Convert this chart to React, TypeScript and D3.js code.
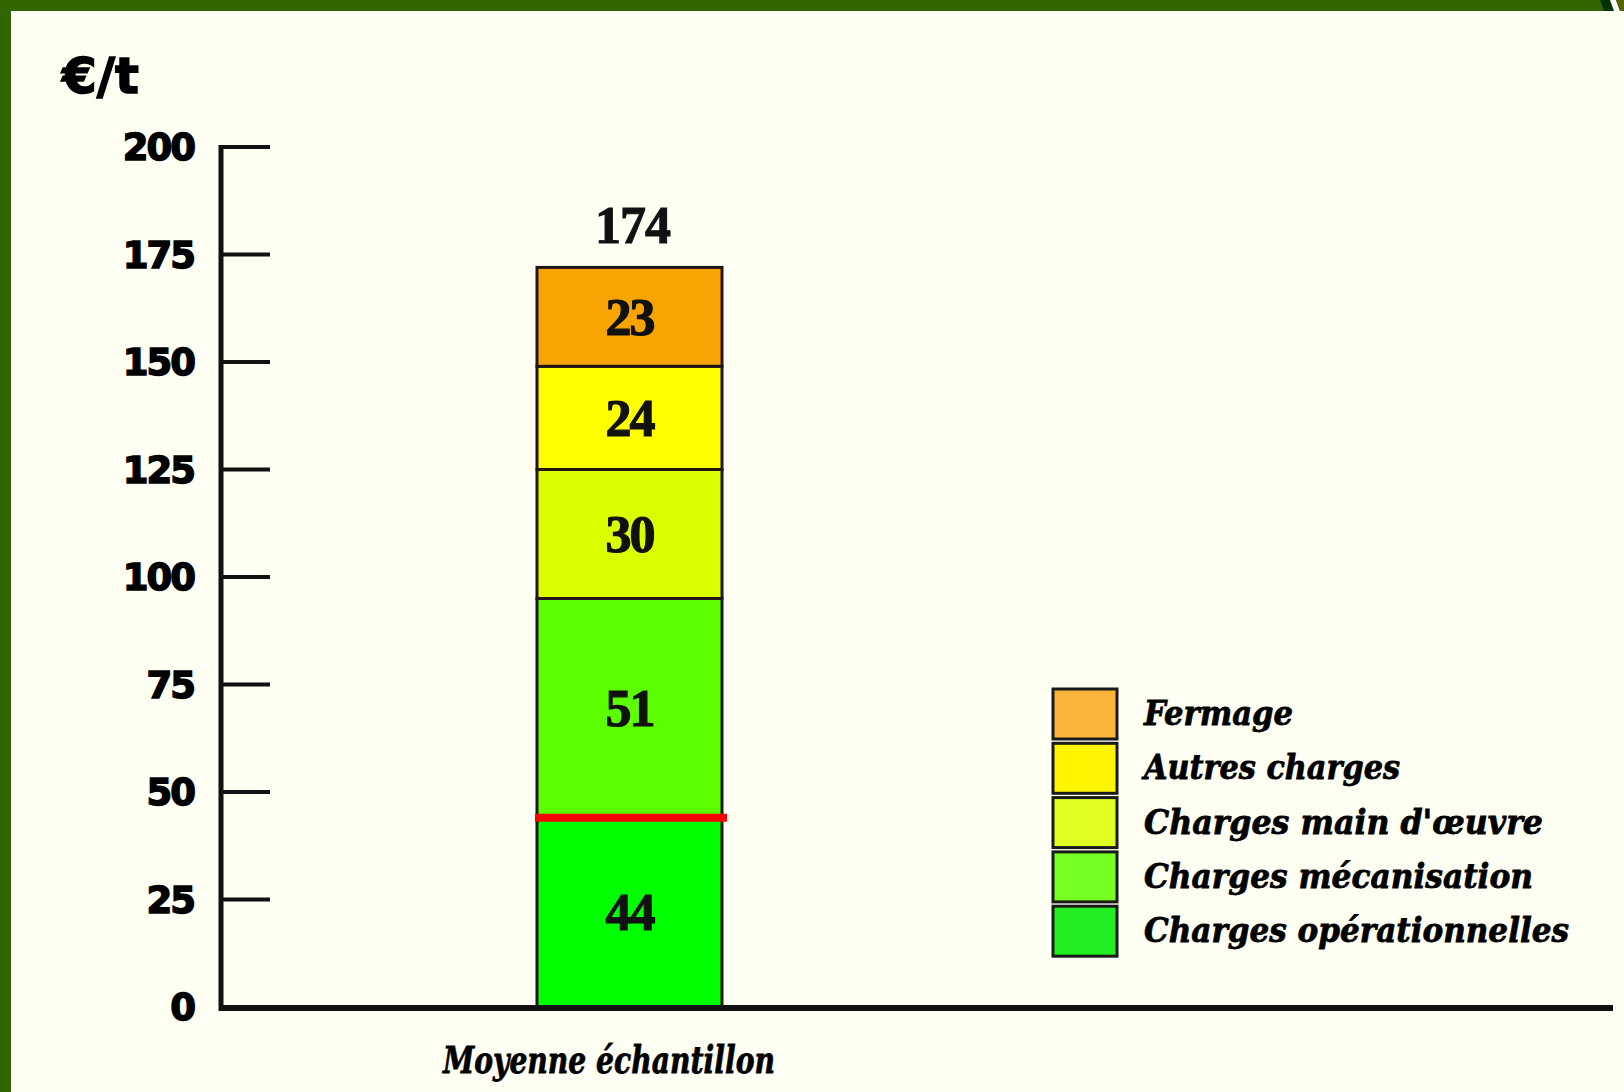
import React from "react";
import * as d3 from "d3";

const categories = ["Moyenne échantillon"];
const seriesNames = [
  "Charges opérationnelles",
  "Charges mécanisation",
  "Charges main d'œuvre",
  "Autres charges",
  "Fermage",
];
const seriesValues = [44, 51, 30, 24, 23];
const totalValues = [174];
const thresholdValue = 44;
const yTickValues = [0, 25, 50, 75, 100, 125, 150, 175, 200];
const unitLabel = "€/t";

const barColors = ["#00FF00", "#5CFF00", "#DCFF00", "#FFFF00", "#F8A504"];
const legendColors = ["#22EE22", "#77FF22", "#E2FF22", "#FFF500", "#FBB43A"];
const legendWidths = [425, 389, 399, 256, 149];

const W = 1624;
const H = 1092;
const axisX = 221;
const baseY = 1007;
const topY = 147;

export default function App() {
  const y = d3.scaleLinear().domain([0, 200]).range([baseY, topY]);
  const rangeLeft = axisX;
  const rangeRight = 1038;
  const bw = 185;
  const span = rangeRight - rangeLeft;
  const p = (span - bw) / (span + bw);
  const x = d3.scaleBand<string>().domain(categories).range([rangeLeft, rangeRight]).paddingInner(p).paddingOuter(p);

  const keys = seriesNames.map((_, i) => "s" + i);
  const rows = categories.map((c) => {
    const r: any = { cat: c };
    seriesValues.forEach((v, i) => (r["s" + i] = v));
    return r;
  });
  const stacked = d3.stack<any>().keys(keys)(rows);

  const serif = "'Liberation Serif', 'DejaVu Serif', serif";
  const heavySerif = "'DejaVu Serif', 'Liberation Serif', serif";
  const sans = "'DejaVu Sans', sans-serif";

  const legendX = 1053;
  const legendY0 = 689;
  const legendStep = 54.3;
  const legendOrder = d3.range(seriesNames.length).reverse();

  return (
    <svg
      width={W}
      height={H}
      style={{ position: "fixed", left: 0, top: 0, display: "block" }}
    >
      <rect x={0} y={0} width={W} height={H} fill="#FFFFF3" />
      <rect x={0} y={0} width={W} height={11} fill="#336600" />
      <rect x={0} y={0} width={11} height={H} fill="#336600" />
      <polygon points="1600,0 1610,0 1614,11 1604,11" fill="#003300" />
      <polygon points="1610,0 1616,0 1620,11 1614,11" fill="#FFFFFF" />
      <polygon points="1616,0 1624,0 1624,11 1620,11" fill="#556600" />

      {/* unit label */}
      <text x={62} y={93} fontFamily={sans} fontWeight="bold" fontSize={50} fill="#000" stroke="#000" strokeWidth={1.5}>
        {unitLabel}
      </text>

      {/* y axis */}
      <line x1={axisX} x2={axisX} y1={y(200) - 2} y2={baseY + 4} stroke="#111" strokeWidth={5} />
      {yTickValues.map((t) => (
        <g key={t}>
          {t > 0 && (
            <line x1={axisX} x2={270} y1={y(t)} y2={y(t)} stroke="#111" strokeWidth={4} />
          )}
          <text
            x={194}
            y={y(t) + 13}
            textAnchor="end"
            fontFamily={sans}
            fontWeight="bold"
            fontSize={37}
            letterSpacing={-2}
            fill="#000"
            stroke="#000"
            strokeWidth={1.5}
          >
            {t}
          </text>
        </g>
      ))}

      {/* bar segments */}
      {stacked.map((layer, i) =>
        layer.map((d, j) => (
          <rect
            key={i + "-" + j}
            x={x(categories[j])!}
            y={y(d[1])}
            width={x.bandwidth()}
            height={y(d[0]) - y(d[1])}
            fill={barColors[i]}
            stroke="#221515"
            strokeWidth={3}
          />
        ))
      )}

      {/* threshold red line */}
      <line
        x1={x(categories[0])! - 2}
        x2={x(categories[0])! + x.bandwidth() + 5}
        y1={y(thresholdValue)}
        y2={y(thresholdValue)}
        stroke="#FF0000"
        strokeWidth={8}
      />

      {/* segment labels */}
      {stacked.map((layer, i) =>
        layer.map((d, j) => (
          <text
            key={"l" + i + "-" + j}
            x={x(categories[j])! + x.bandwidth() / 2}
            y={(y(d[0]) + y(d[1])) / 2 + 18}
            textAnchor="middle"
            fontFamily={serif}
            fontWeight="bold"
            fontSize={52}
            letterSpacing={-2}
            fill="#111"
            stroke="#111"
            strokeWidth={1.2}
          >
            {seriesValues[i]}
          </text>
        ))
      )}

      {/* total labels */}
      {categories.map((c, j) => (
        <text
          key={"t" + j}
          x={x(c)! + x.bandwidth() / 2 + 3}
          y={y(totalValues[j]) - 16}
          textAnchor="middle"
          fontFamily={serif}
          fontWeight="bold"
          fontSize={52}
          letterSpacing={-1}
          fill="#111"
          stroke="#111"
          strokeWidth={1}
        >
          {totalValues[j]}
        </text>
      ))}

      {/* x axis */}
      <line x1={axisX - 2} x2={1613} y1={baseY + 1} y2={baseY + 1} stroke="#111" strokeWidth={6} />
      {categories.map((c) => (
        <text
          key={c}
          x={443}
          y={1073}
          textLength={332}
          lengthAdjust="spacingAndGlyphs"
          fontFamily={heavySerif}
          fontWeight="bold"
          fontStyle="italic"
          fontSize={38}
          fill="#000"
          stroke="#000"
          strokeWidth={0.8}
        >
          {c}
        </text>
      ))}

      {/* legend */}
      {legendOrder.map((si, k) => (
        <g key={"lg" + si}>
          <rect
            x={legendX}
            y={legendY0 + k * legendStep}
            width={64}
            height={50}
            fill={legendColors[si]}
            stroke="#1a1a1a"
            strokeWidth={3}
          />
          <text
            x={1144}
            y={legendY0 + k * legendStep + 36}
            textLength={legendWidths[si]}
            lengthAdjust="spacingAndGlyphs"
            fontFamily={heavySerif}
            fontWeight="bold"
            fontStyle="italic"
            fontSize={34}
            fill="#000"
            stroke="#000"
            strokeWidth={0.8}
          >
            {seriesNames[si]}
          </text>
        </g>
      ))}
    </svg>
  );
}
